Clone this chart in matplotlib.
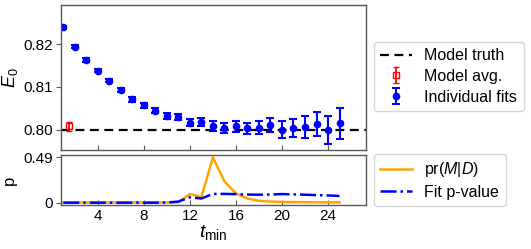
import matplotlib
matplotlib.use("Agg")
import matplotlib.pyplot as plt
import numpy as np

plt.rcParams["font.family"] = ["Liberation Sans", "DejaVu Sans"]
plt.rcParams["mathtext.fontset"] = "custom"
plt.rcParams["mathtext.rm"] = "Liberation Sans"
plt.rcParams["mathtext.it"] = "Liberation Sans:italic"
plt.rcParams["mathtext.bf"] = "Liberation Sans:bold"

t = list(range(1, 26))
e0 = [0.8239, 0.8194, 0.8163, 0.8138, 0.8115, 0.8093, 0.8071, 0.8057, 0.8045, 0.8033,
      0.8030, 0.8017, 0.8019, 0.8009, 0.8005, 0.8008, 0.8004, 0.8005, 0.8012, 0.8000,
      0.8005, 0.8007, 0.8014, 0.8000, 0.8015]
e0_err = [0.0004, 0.0004, 0.0004, 0.0004, 0.0004, 0.0005, 0.0005, 0.0006, 0.0006, 0.0007,
          0.0007, 0.0008, 0.0009, 0.0011, 0.0012, 0.0012, 0.0013, 0.0015, 0.0016, 0.0020,
          0.0021, 0.0025, 0.0028, 0.0033, 0.0036]
avg_t = [1.5]
avg_val = [0.8008]
avg_err = [0.0011]
truth = 0.80

pr_md = [0.002, 0.002, 0.002, 0.002, 0.002, 0.002, 0.002, 0.002, 0.002, 0.002,
         0.005, 0.093, 0.062, 0.49, 0.23, 0.10, 0.045, 0.02, 0.012, 0.008,
         0.006, 0.005, 0.004, 0.003, 0.003]
pval = [0.0, 0.0, 0.0, 0.0, 0.0, 0.0, 0.0, 0.0, 0.0, 0.002,
        0.012, 0.058, 0.045, 0.095, 0.095, 0.092, 0.088, 0.086, 0.088, 0.093,
        0.09, 0.086, 0.082, 0.078, 0.073]

fig = plt.figure(figsize=(5.31, 2.49), dpi=100)
W, H = 531, 249
ax1 = fig.add_axes([61 / W, 1 - 150 / H, (366 - 61) / W, (150 - 5) / H])
ax2 = fig.add_axes([61 / W, 1 - 205 / H, (366 - 61) / W, (205 - 155) / H], sharex=ax1)

spine_c = "0.35"
for ax in (ax1, ax2):
    for s in ax.spines.values():
        s.set_color(spine_c)
        s.set_linewidth(1.0)
    ax.tick_params(axis="x", direction="in", labelsize=11, color=spine_c, length=3.5, pad=3)
    ax.tick_params(axis="y", direction="out", labelsize=11, color=spine_c, length=3.5, pad=2)

ax1.axhline(truth, color="black", ls="--", lw=1.6, label="Model truth", dashes=(4, 2.5))
ax1.errorbar(avg_t, avg_val, yerr=avg_err, fmt="s", mfc="none", mec="red", ecolor="red",
             color="red", ms=5, capsize=2.5, elinewidth=1.3, label="Model avg.")
ax1.errorbar(t, e0, yerr=e0_err, fmt="o", color="blue", ms=4.5, capsize=3, elinewidth=1.5,
             capthick=1.5, label="Individual fits")
ax1.set_ylim(0.7953, 0.8291)
ax1.set_yticks([0.80, 0.81, 0.82])
ax1.set_yticklabels(["0.80", "0.81", "0.82"])
ax1.set_ylabel("$E_0$", fontsize=13, labelpad=3)
ax1.tick_params(labelbottom=False)
ax1.set_xlim(0.8, 27.3)

h, l = ax1.get_legend_handles_labels()
ax1.legend(h, l, loc="upper left", bbox_to_anchor=(374 / W, 1 - 42 / H),
           bbox_transform=fig.transFigure, borderaxespad=0, fontsize=11.5,
           frameon=True, handlelength=2.0, borderpad=0.4, labelspacing=0.35,
           handletextpad=0.75)

ax2.plot(t, pr_md, color="orange", lw=1.8, label="pr($M|D$)")
ax2.plot(t, pval, color="blue", ls="-.", lw=1.8, label="Fit p-value")
ax2.set_ylim(-0.025, 0.515)
ax2.set_yticks([0, 0.49])
ax2.set_yticklabels(["0", "0.49"])
ax2.set_xticks([4, 8, 12, 16, 20, 24])
ax2.set_ylabel("p", fontsize=12, labelpad=5)
ax2.set_xlabel("$t_{\\mathrm{min}}$", fontsize=14, labelpad=0)
ax2.legend(loc="upper left", bbox_to_anchor=(374 / W, 1 - 154 / H),
           bbox_transform=fig.transFigure, borderaxespad=0, fontsize=11.5,
           frameon=True, handlelength=2.0, borderpad=0.4, labelspacing=0.35,
           handletextpad=0.75)

fig.savefig("out.png", dpi=100)
